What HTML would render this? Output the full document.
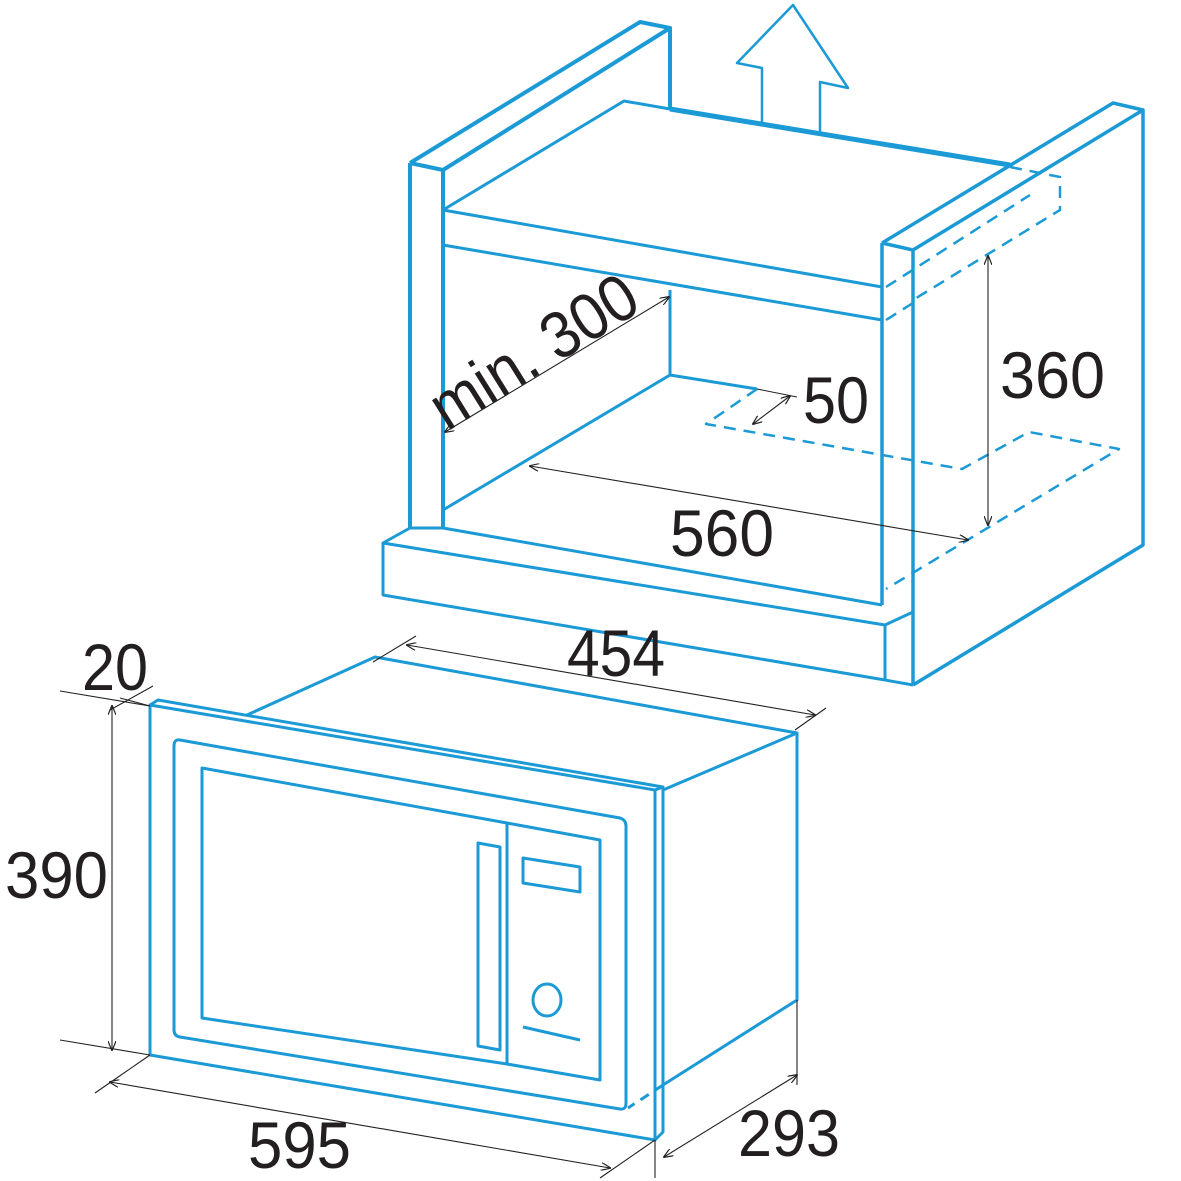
<!DOCTYPE html>
<html><head><meta charset="utf-8"><style>html,body{margin:0;padding:0;background:#fff}svg{display:block}</style></head>
<body>
<svg width="1181" height="1181" viewBox="0 0 1181 1181" xmlns="http://www.w3.org/2000/svg">
<defs>
<marker id="a" markerWidth="10" markerHeight="8" refX="9" refY="4" orient="auto-start-reverse" markerUnits="userSpaceOnUse"><path d="M0,0 L10,4 L0,8" fill="none" stroke="#222" stroke-width="1.2"/></marker>
</defs>
<g fill="none" stroke="#1b9ad6" stroke-width="3" stroke-linejoin="round">
<path d="M410,163 L410,528 M443,170 L443,528 M410,163 L443,170 M410,163 L640,22 L670,28 L443,170 M670,28 L670,110" stroke-width="4"/>
<path d="M443,210 L624,101 L670,109 L1010,165" />
<path d="M670,109 L1010,165" stroke-width="5"/>
<path d="M443,210 L882,287 M443,245 L882,320"/>
<path d="M670,290 L670,375 L757,389 M443,510 L670,375 M443,528 L882,605"/>
<path d="M882,243 L882,605 M913,250 L913,685 M882,243 L913,250 M882,243 L1113,103 L1143,110 L913,250 M1143,110 L1143,545 L913,685" stroke-width="3.5"/>
<path d="M410,528 L383,543 L383,595 L885,680 L913,685 M383,543 L885,625 L913,612 M885,625 L885,680 M443,528 L410,528"/>
<path d="M762,125 L762,68 L737,63 L793,5 L848,88 L820,82 L820,133" stroke-width="2.5"/>
<g stroke-dasharray="12,8" stroke-width="2.5">
<path d="M1010,167 L1060,177 L1060,210 L913,300"/>
<path d="M886,287 L1030,195"/>
<path d="M886,320 L913,303"/>
<path d="M757,389 L706,424 L962,469 L1029,432 L1119,449 L886,589"/>
</g>
<path d="M150,705 L655,790 L655,1140 L150,1055 Z"/>
<path d="M150,705 L158,700 L663,787 L663,1132 L655,1140 M655,790 L663,787"/>
<path d="M247,715 L375,657 L797,733 L663,790 M797,733 L797,1000 L663,1085"/>
<path d="M663,1085 L628,1108" stroke-dasharray="10,7"/>
<path d="M180,740 L620,818 Q626,820 626,826 L626,1103 Q626,1110 620,1109 L180,1037 Q174,1036 174,1030 L174,746 Q174,739 180,740 Z"/>
<path d="M202,768 L507,823 L507,1064 L202,1018 Z"/>
<path d="M507,823 L600,840 L600,1080 L507,1064"/>
<path d="M478,843 L500,847 L500,1050 L478,1046 Z"/>
<path d="M523,858 L580,867 L580,892 L523,883 Z"/>
<ellipse cx="547" cy="1000" rx="14" ry="16"/>
<path d="M523,1027 L580,1040"/>
</g>
<g stroke="#222" stroke-width="1.1" fill="none">
<path d="M445,432 L669,297" marker-start="url(#a)" marker-end="url(#a)"/>
<path d="M530,466 L968,540" marker-start="url(#a)" marker-end="url(#a)"/>
<path d="M988,256 L988,525" marker-start="url(#a)" marker-end="url(#a)"/>
<path d="M753,424 L790,396" marker-start="url(#a)" marker-end="url(#a)"/>
<path d="M757,389 L797,397"/>
<path d="M112,706 L112,1050" marker-start="url(#a)" marker-end="url(#a)"/>
<path d="M60,691 L150,706 M60,1040 L150,1055"/>
<path d="M120,698 L150,706 M110,710 L153,686"/>
<path d="M110,1082 L610,1168" marker-start="url(#a)" marker-end="url(#a)"/>
<path d="M95,1093 L150,1055 M600,1178 L655,1140"/>
<path d="M664,1157 L797,1075" marker-start="url(#a)" marker-end="url(#a)"/>
<path d="M797,1000 L797,1085 M655,1140 L655,1178"/>
<path d="M407,645 L815,715" marker-start="url(#a)" marker-end="url(#a)"/>
<path d="M373,662 L416,636 M795,730 L826,708"/>
</g>
<g font-family="Liberation Sans, sans-serif" font-size="66" fill="#231f20">
<text x="567" y="676" textLength="98" lengthAdjust="spacingAndGlyphs">454</text>
<text x="82" y="690" textLength="66" lengthAdjust="spacingAndGlyphs">20</text>
<text x="5" y="898" textLength="103" lengthAdjust="spacingAndGlyphs">390</text>
<text x="248" y="1168" textLength="103" lengthAdjust="spacingAndGlyphs">595</text>
<text x="738" y="1156" textLength="102" lengthAdjust="spacingAndGlyphs">293</text>
<text x="1000" y="398" textLength="105" lengthAdjust="spacingAndGlyphs">360</text>
<text x="803" y="423" textLength="66" lengthAdjust="spacingAndGlyphs">50</text>
<text x="670" y="556" textLength="104" lengthAdjust="spacingAndGlyphs">560</text>
<text x="0" y="0" textLength="232" lengthAdjust="spacingAndGlyphs" transform="translate(447,432) rotate(-32)">min. 300</text>
</g>
</svg>
</body></html>
